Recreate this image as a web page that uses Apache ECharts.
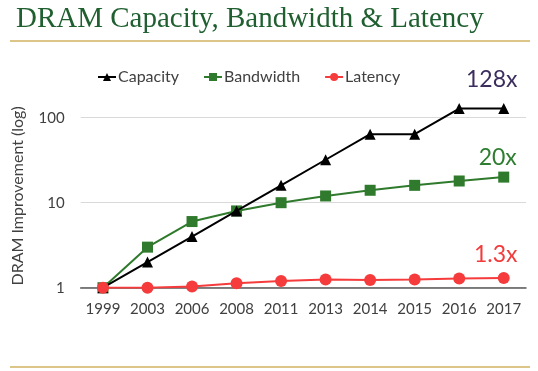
<!DOCTYPE html>
<html>
<head>
<meta charset="utf-8">
<script src="https://cdn.jsdelivr.net/npm/echarts@6/dist/echarts.min.js"></script>
<style>
  html, body { margin: 0; padding: 0; background: #ffffff; }
  #chart { width: 538px; height: 371px; }
</style>
</head>
<body>
<div id="chart"></div>
<script>
const years = ['1999', '2003', '2006', '2008', '2011', '2013', '2014', '2015', '2016', '2017'];
const capacity = [1, 2, 4, 8, 16, 32, 64, 64, 128, 128];
const bandwidth = [1, 3, 6, 8, 10, 12, 14, 16, 18, 20];
const latency = [1, 1, 1.03, 1.13, 1.2, 1.25, 1.23, 1.25, 1.28, 1.3];
const endNotes = ['128x', '20x', '1.3x'];

const FONT = 'Lato';

function withEndLabel(values, text, color, distance, dx) {
  return values.map(function (v, i) {
    if (i !== values.length - 1) return v;
    return {
      value: v,
      label: {
        show: true,
        position: 'top',
        distance: distance,
        offset: [dx, 0],
        formatter: text,
        color: color,
        fontFamily: FONT,
        fontSize: 23
      }
    };
  });
}

const chart = echarts.init(document.getElementById('chart'), null, { renderer: 'canvas' });
chart.setOption({
  animation: false,
  backgroundColor: '#ffffff',
  title: {
    text: 'DRAM Capacity, Bandwidth & Latency',
    left: 11,
    top: 0,
    textStyle: {
      fontFamily: 'Liberation Serif',
      fontWeight: 'normal',
      fontSize: 29,
      color: '#1f5f30'
    }
  },
  graphic: [
    { type: 'line', shape: { x1: 10, y1: 41, x2: 530, y2: 41 }, style: { stroke: '#d2b060', lineWidth: 1.5 } },
    { type: 'line', shape: { x1: 10, y1: 367, x2: 530, y2: 367 }, style: { stroke: '#d2b060', lineWidth: 1.5 } }
  ],
  legend: {
    top: 64,
    left: 92,
    itemWidth: 18,
    itemHeight: 10,
    itemGap: 24,
    textStyle: { fontFamily: FONT, fontSize: 16, color: '#404040', padding: [0, 0, 0, -3] },
    data: ['Capacity', 'Bandwidth', 'Latency']
  },
  grid: { left: 80.7, right: 12, top: 92.1, bottom: 83.3, containLabel: false },
  xAxis: {
    type: 'category',
    data: years,
    boundaryGap: true,
    axisTick: { show: false },
    axisLine: { lineStyle: { color: '#595959', width: 1.5 } },
    axisLabel: { interval: 0, fontFamily: FONT, fontSize: 15, color: '#404040', margin: 14 }
  },
  yAxis: {
    type: 'log',
    logBase: 10,
    min: 1,
    max: 200,
    name: 'DRAM Improvement (log)',
    nameLocation: 'middle',
    nameGap: 55,
    nameTextStyle: { fontFamily: FONT, fontSize: 16, color: '#404040', padding: [0, 0, 0, -12] },
    axisLine: { show: false },
    axisTick: { show: false },
    axisLabel: { fontFamily: FONT, fontSize: 15, color: '#404040', margin: 16, showMaxLabel: false },
    splitLine: { show: true, showMaxLine: false, lineStyle: { color: '#d9d9d9', width: 1 } }
  },
  series: [
    {
      name: 'Capacity', type: 'line', data: withEndLabel(capacity, endNotes[0], '#3b2e5e', 12, -12),
      symbol: 'triangle', symbolSize: 11,
      itemStyle: { color: '#000000' }, lineStyle: { color: '#000000', width: 2 }, z: 3
    },
    {
      name: 'Bandwidth', type: 'line', data: withEndLabel(bandwidth, endNotes[1], '#2f7d30', 3, -6),
      symbol: 'rect', symbolSize: 11,
      itemStyle: { color: '#2f7a2c' }, lineStyle: { color: '#2f7a2c', width: 2 }, z: 2
    },
    {
      name: 'Latency', type: 'line', data: withEndLabel(latency, endNotes[2], '#f23b3b', 6, -8),
      symbol: 'circle', symbolSize: 12,
      itemStyle: { color: '#f53b3b' }, lineStyle: { color: '#f53b3b', width: 2 }, z: 4
    }
  ]
});
</script>
</body>
</html>
